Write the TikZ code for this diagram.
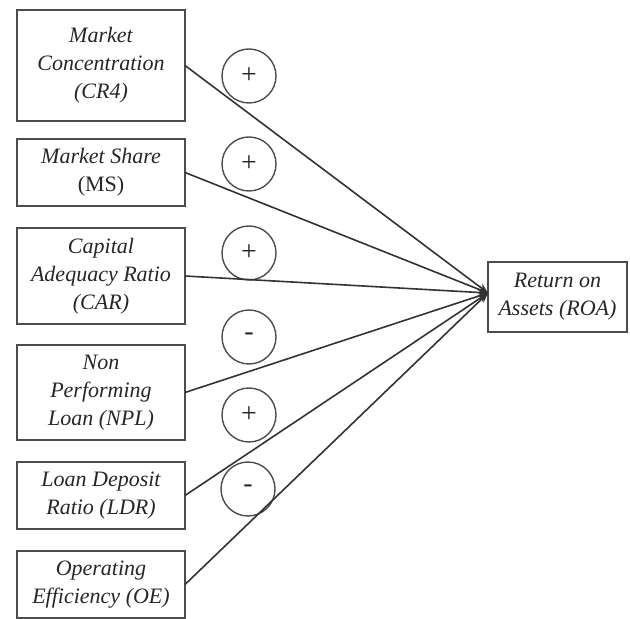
\documentclass[tikz,border=0pt]{standalone}
\usepackage{fontspec}
\setmainfont{Liberation Serif}
\usetikzlibrary{positioning, arrows.meta}
\tikzset{
	every node/.append style={
		font={\fontsize{11}{14}\selectfont\itshape},
		text=black!85,
	},
	varbox/.append style={
		draw=black!70,
		line width=0.9pt,
		align = center,
		minimum width=84pt,
		inner sep=1mm,
		outer sep=0pt,
	},
	sign/.append style={
		draw=black!70,
		line width=0.7pt,
		circle,
		minimum size=27pt,
		inner sep=0pt,
		font={\fontsize{14}{14}\selectfont},
	},
	link/.append style={
		draw=black!80,
		line width=0.8pt,
		-{Stealth[length=5pt, width=4pt]},
	}
}

\begin{document}
\begin{tikzpicture}[x=0.5pt, y=-0.5pt]
	\useasboundingbox (0,0) rectangle (630,619);
	
	\node (cr4)[varbox, minimum height=55.5pt] at (101,65.5) {Market\\Concentration\\(CR4)};
	\node (ms)[varbox, minimum height=33.5pt, below=9pt of cr4] {Market Share\\\textup{(MS)}};
	\node (car)[varbox, minimum height=48pt, below=11pt of ms] {Capital\\Adequacy Ratio\\(CAR)};
	\node (npl)[varbox, minimum height=47.5pt, below=10.5pt of car] {Non\\Performing\\Loan (NPL)};
	\node (ldr)[varbox, minimum height=33.5pt, below=11pt of npl] {Loan Deposit\\Ratio (LDR)};
	\node (oe)[varbox, minimum height=33.5pt, below=11pt of ldr] {Operating\\Efficiency (OE)};
	
	\node (roa)[varbox, minimum width=69.5pt, minimum height=35pt] at (557.5,297) {Return on\\Assets (ROA)};
	\coordinate (tip) at ([yshift=2pt]roa.west);
	
	% signs
	\node (s1)[sign] at (249,76) {+};
	\node (s2)[sign] at (249,164) {+};
	\node (s3)[sign] at (249,253) {+};
	\node (s4)[sign] at (249,337) {-};
	\node (s5)[sign] at (249,415) {+};
	\node (s6)[sign] at (248,489) {-};
	
	\foreach \v in {cr4, ms, car, npl, ldr, oe}
		\draw[link](\v.east) to (tip);
	
\end{tikzpicture}
\end{document}
